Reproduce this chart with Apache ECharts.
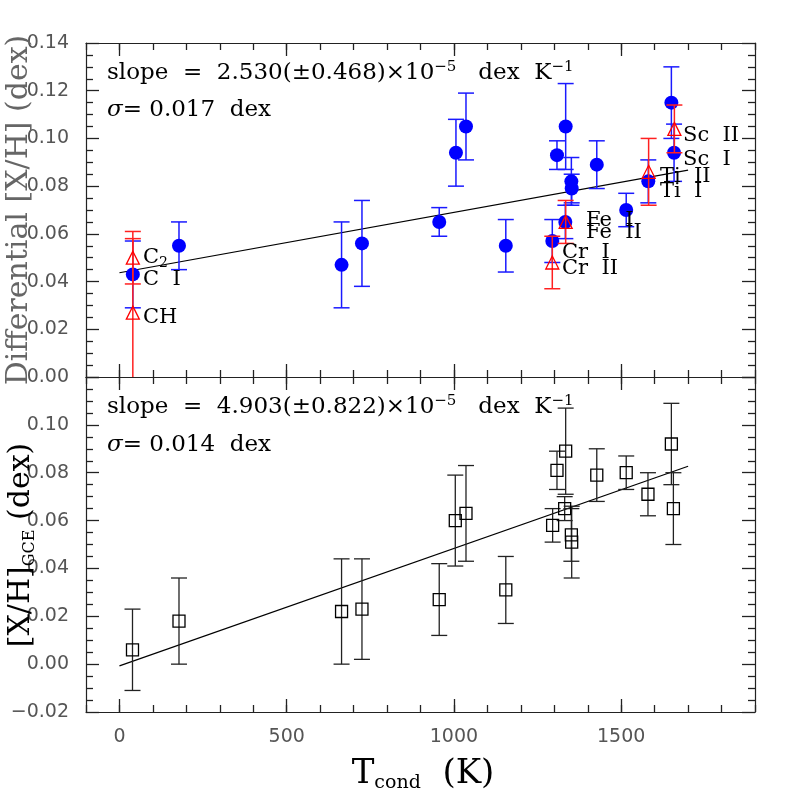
<!DOCTYPE html>
<html>
<head>
<meta charset="utf-8">
<script src="https://cdn.jsdelivr.net/npm/echarts@6/dist/echarts.min.js"></script>
<style>
  html, body { margin: 0; padding: 0; background: #fff; }
  #chart { width: 797px; height: 797px; }
</style>
</head>
<body>
<div id="chart"></div>
<script>
// top panel, filled circles (neutral / main species)
var tcondI = [40, 178, 664, 725, 956, 1006, 1036, 1155, 1294, 1308, 1333, 1334, 1351, 1352, 1427, 1515, 1581, 1650, 1658]
var xhI = [0.043, 0.055, 0.047, 0.056, 0.065, 0.094, 0.105, 0.055, 0.057, 0.093, 0.065, 0.105, 0.082, 0.079, 0.089, 0.070, 0.082, 0.115, 0.094]
var errI = [0.014, 0.010, 0.018, 0.018, 0.006, 0.014, 0.014, 0.011, 0.009, 0.006, 0.007, 0.018, 0.010, 0.006, 0.010, 0.007, 0.009, 0.015, 0.012]

// top panel, open triangles (C2, CH, Cr II, Fe II, Ti II, Sc II)
var tcondII = [40, 40, 1294, 1334, 1582, 1659]
var xhII = [0.050, 0.027, 0.048, 0.065, 0.086, 0.104]
var errII = [0.011, 0.031, 0.011, 0.009, 0.014, 0.010]

// bottom panel, GCE corrected
var tcondGce = [39, 178, 664, 725, 956, 1004, 1036, 1155, 1295, 1308, 1331, 1334, 1351, 1352, 1427, 1515, 1580, 1650, 1656]
var xhGce = [0.006, 0.018, 0.022, 0.023, 0.027, 0.060, 0.063, 0.031, 0.058, 0.081, 0.065, 0.089, 0.054, 0.051, 0.079, 0.080, 0.071, 0.092, 0.065]
var errGce = [0.017, 0.018, 0.022, 0.021, 0.015, 0.019, 0.020, 0.014, 0.007, 0.008, 0.005, 0.018, 0.011, 0.015, 0.011, 0.007, 0.009, 0.017, 0.015]

// fitted lines (end points)
var fitTopX = [0, 1700]
var fitTopY = [0.0437, 0.0867]
var fitGceX = [0, 1700]
var fitGceY = [-0.0007, 0.0827]

var xMajor = [0, 500, 1000, 1500]

var SERIF = 'DejaVu Serif'
var SANS = 'DejaVu Sans'
var AX = '#222'

function pts(xs, ys) {
  return xs.map(function (x, i) { return [x, ys[i]] })
}
function bars(xs, ys, es) {
  return xs.map(function (x, i) { return [x, ys[i] - es[i], ys[i] + es[i]] })
}

function errRender(color, width, cap) {
  return function (params, api) {
    var x = api.value(0)
    var lo = api.coord([x, api.value(1)])
    var hi = api.coord([x, api.value(2)])
    var st = { stroke: color, lineWidth: width }
    return {
      type: 'group',
      children: [
        { type: 'line', shape: { x1: lo[0], y1: lo[1], x2: hi[0], y2: hi[1] }, style: st },
        { type: 'line', shape: { x1: lo[0] - cap, y1: lo[1], x2: lo[0] + cap, y2: lo[1] }, style: st },
        { type: 'line', shape: { x1: hi[0] - cap, y1: hi[1], x2: hi[0] + cap, y2: hi[1] }, style: st },
      ],
    }
  }
}

function makeX(grid, pos, major, labels) {
  return {
    gridIndex: grid,
    type: 'value',
    position: pos,
    min: -100,
    max: 1900,
    interval: 100,
    axisLine: { show: !major, onZero: false, lineStyle: { color: AX, width: 1.2 } },
    axisTick: major
      ? { show: true, inside: true, length: 13, customValues: xMajor, lineStyle: { color: AX, width: 1.3 } }
      : { show: true, inside: true, length: 7, lineStyle: { color: AX, width: 1.3 } },
    axisLabel: labels
      ? {
          show: true, customValues: xMajor, margin: 16, color: '#555', fontFamily: SANS, fontSize: 19,
          formatter: function (v) { return String(v) },
        }
      : { show: false },
    splitLine: { show: false },
  }
}

function yLabel(hideTop) {
  return function (v) {
    if (hideTop && v > 0.115) return ''
    var s = Math.abs(v).toFixed(2)
    return v < -1e-9 ? '\u2212' + s : s
  }
}

function makeY(grid, pos, min, max, fmt) {
  return {
    gridIndex: grid,
    type: 'value',
    position: pos,
    min: min,
    max: max,
    interval: 0.02,
    axisLine: { show: true, onZero: false, lineStyle: { color: AX, width: 1.2 } },
    axisTick: { show: true, inside: true, length: 13, lineStyle: { color: AX, width: 1.3 } },
    minorTick: { show: true, splitNumber: 4, length: 7, lineStyle: { color: AX, width: 1.3 } },
    axisLabel: fmt
      ? { show: true, formatter: fmt, margin: 17, color: '#555', fontFamily: SANS, fontSize: 19 }
      : { show: false },
    splitLine: { show: false },
    minorSplitLine: { show: false },
  }
}

function txt(x, y, text, size, extra) {
  var o = {
    type: 'text',
    x: x,
    y: y,
    z: 100,
    style: {
      text: text,
      fill: '#000',
      font: size + 'px "' + SERIF + '"',
      verticalAlign: 'middle',
      align: 'left',
    },
  }
  if (extra) for (var k in extra) o.style[k] = extra[k]
  return o
}

var slopeRich = {
  m: { fontFamily: SERIF, fontSize: 23, lineHeight: 26, color: '#000' },
  i: { fontFamily: SERIF, fontSize: 23, lineHeight: 26, fontStyle: 'italic', color: '#000' },
  u: { fontFamily: SERIF, fontSize: 15, lineHeight: 15, verticalAlign: 'top', color: '#000' },
}
var labelRich = {
  m: { fontFamily: SERIF, fontSize: 21, lineHeight: 24, color: '#000' },
  s: { fontFamily: SERIF, fontSize: 14, lineHeight: 14, padding: [12, 0, 0, 0], verticalAlign: 'bottom', color: '#000' },
}
var titleRich = {
  m: { fontFamily: SERIF, fontSize: 30, lineHeight: 31, verticalAlign: 'top', color: '#666' },
  s: { fontFamily: SERIF, fontSize: 16, lineHeight: 16, padding: [23, 0, 0, 0], verticalAlign: 'bottom', color: '#666' },
}

var graphics = [
  txt(107, 73, '{m|slope  =  2.530(±0.468)×10}{u|−5}{m|   dex  K}{u|−1}', 23, { rich: slopeRich }),
  txt(107, 110, '{i|σ}{m|= 0.017  dex}', 23, { rich: slopeRich }),
  txt(107, 407, '{m|slope  =  4.903(±0.822)×10}{u|−5}{m|   dex  K}{u|−1}', 23, { rich: slopeRich }),
  txt(107, 445, '{i|σ}{m|= 0.014  dex}', 23, { rich: slopeRich }),
  // element labels
  txt(143, 258, '{m|C}{s|2}', 21, { rich: labelRich }),
  txt(143, 280, 'C  I', 21),
  txt(143, 318, 'CH', 21),
  txt(586, 221, 'Fe  I', 21),
  txt(586, 233, 'Fe  II', 21),
  txt(562, 253, 'Cr  I', 21),
  txt(562, 269, 'Cr  II', 21),
  txt(660, 177, 'Ti  II', 21),
  txt(660, 192, 'Ti  I', 21),
  txt(683, 136, 'Sc  II', 21),
  txt(683, 160, 'Sc  I', 21),
  // axis titles
  {
    type: 'text', x: 19, y: 210, rotation: Math.PI / 2, z: 100,
    style: { text: 'Differential [X/H] (dex)', fill: '#666', font: '30px "' + SERIF + '"', align: 'center', verticalAlign: 'middle' },
  },
  {
    type: 'text', x: 22, y: 545, rotation: Math.PI / 2, z: 100,
    style: { text: '{m|[X/H]}{s|GCE}{m| (dex)}', rich: titleRich, align: 'center', verticalAlign: 'middle' },
  },
  {
    type: 'text', x: 423, y: 775, z: 100,
    style: {
      text: '{m|T}{s|cond}{m|  (K)}', align: 'center', verticalAlign: 'middle',
      rich: {
        m: { fontFamily: SERIF, fontSize: 34, lineHeight: 36, verticalAlign: 'top', color: '#666' },
        s: { fontFamily: SERIF, fontSize: 19, lineHeight: 19, padding: [25, 0, 0, 0], verticalAlign: 'bottom', color: '#666' },
      },
    },
  },
]

var option = {
  animation: false,
  backgroundColor: '#fff',
  grid: [
    { left: 86, top: 43, width: 669, height: 334 },
    { left: 86, top: 377, width: 669, height: 335 },
  ],
  xAxis: [
    makeX(0, 'bottom', false, false),
    makeX(0, 'bottom', true, false),
    makeX(0, 'top', false, false),
    makeX(0, 'top', true, false),
    makeX(1, 'bottom', false, false),
    makeX(1, 'bottom', true, true),
    makeX(1, 'top', false, false),
    makeX(1, 'top', true, false),
  ],
  yAxis: [
    makeY(0, 'left', 0, 0.14, yLabel(false)),
    makeY(0, 'right', 0, 0.14, null),
    makeY(1, 'left', -0.02, 0.12, yLabel(true)),
    makeY(1, 'right', -0.02, 0.12, null),
  ],
  graphic: graphics,
  series: [
    {
      type: 'line', xAxisIndex: 0, yAxisIndex: 0, data: pts(fitTopX, fitTopY),
      showSymbol: false, lineStyle: { color: '#000', width: 1.2 }, z: 1,
    },
    {
      type: 'custom', xAxisIndex: 0, yAxisIndex: 0, clip: true, z: 2,
      renderItem: errRender('#1a1aff', 1.5, 8), data: bars(tcondI, xhI, errI),
    },
    {
      type: 'scatter', xAxisIndex: 0, yAxisIndex: 0, symbol: 'circle', symbolSize: 14, z: 3,
      itemStyle: { color: '#0000ff', opacity: 1 }, data: pts(tcondI, xhI),
    },
    {
      type: 'custom', xAxisIndex: 0, yAxisIndex: 0, clip: true, z: 4,
      renderItem: errRender('#ff2020', 1.5, 8), data: bars(tcondII, xhII, errII),
    },
    {
      type: 'scatter', xAxisIndex: 0, yAxisIndex: 0, symbol: 'triangle', symbolSize: 13, z: 5,
      itemStyle: { color: 'rgba(0,0,0,0)', borderColor: '#ff0000', borderWidth: 1.3, opacity: 1 },
      data: pts(tcondII, xhII),
    },
    {
      type: 'line', xAxisIndex: 4, yAxisIndex: 2, data: pts(fitGceX, fitGceY),
      showSymbol: false, lineStyle: { color: '#000', width: 1.2 }, z: 1,
    },
    {
      type: 'custom', xAxisIndex: 4, yAxisIndex: 2, clip: true, z: 2,
      renderItem: errRender('#222', 1.3, 8), data: bars(tcondGce, xhGce, errGce),
    },
    {
      type: 'scatter', xAxisIndex: 4, yAxisIndex: 2, symbol: 'rect', symbolSize: 12, z: 3,
      itemStyle: { color: 'rgba(0,0,0,0)', borderColor: '#000', borderWidth: 1.3, opacity: 1 },
      data: pts(tcondGce, xhGce),
    },
  ],
}

var chart = echarts.init(document.getElementById('chart'), null, { renderer: 'canvas' })
chart.setOption(option)
</script>
</body>
</html>
